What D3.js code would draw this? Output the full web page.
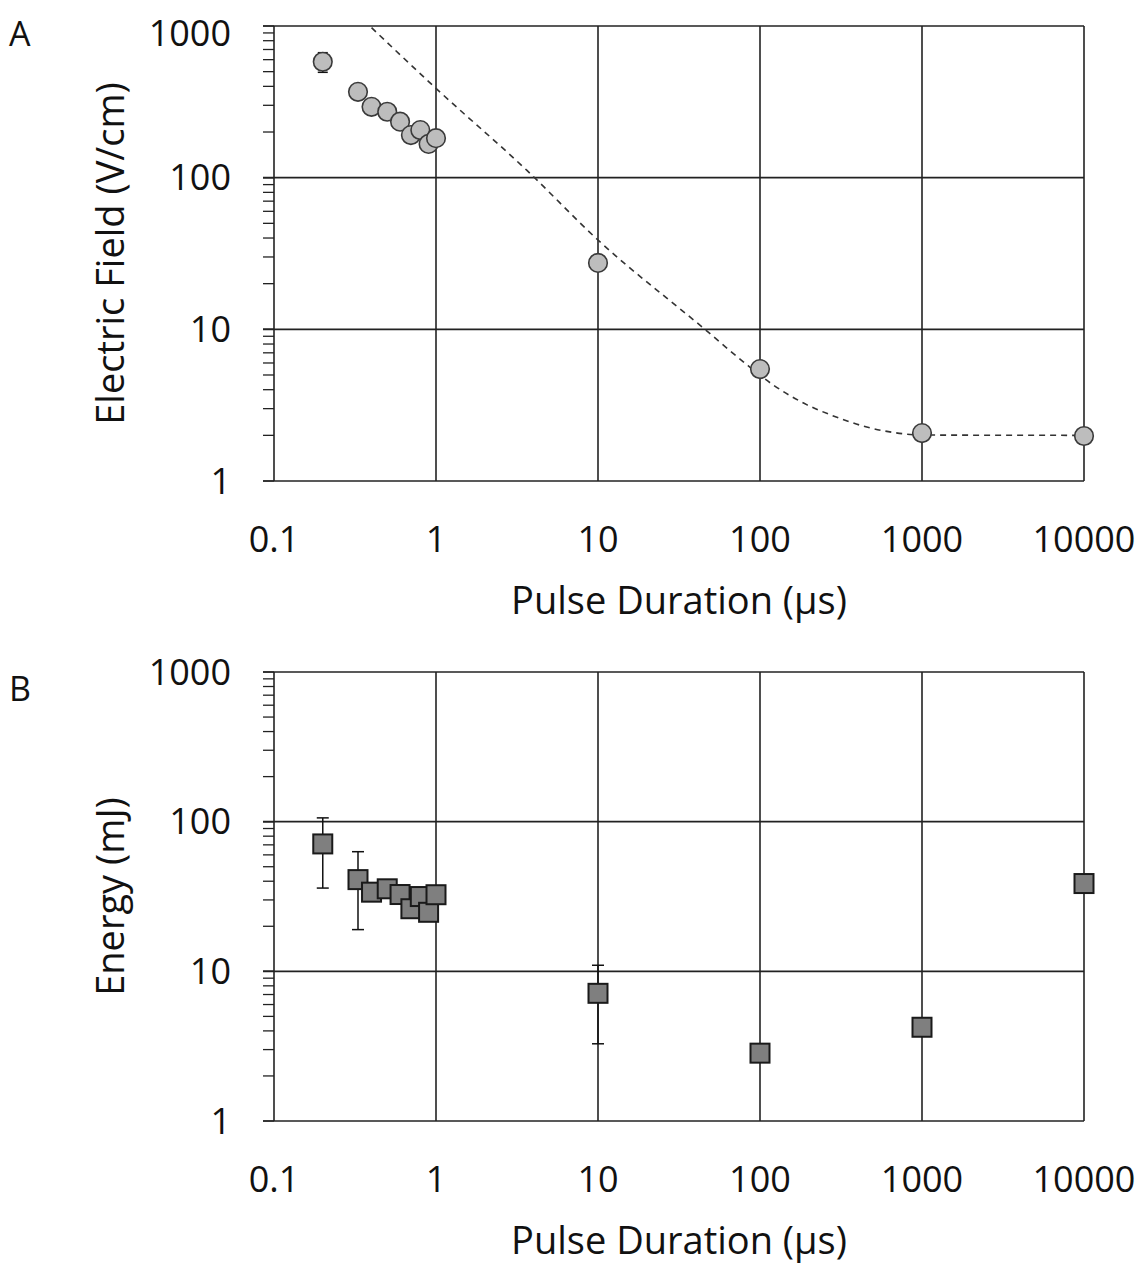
<!DOCTYPE html>
<html>
<head>
<meta charset="utf-8">
<script src="https://cdn.jsdelivr.net/npm/d3@7"></script>
<style>
  html, body { margin: 0; padding: 0; background: #fff; }
  svg text { font-family: "Open Sans", "Noto Sans", sans-serif; fill: #111; }
</style>
</head>
<body>
<svg id="chart" width="1146" height="1264"></svg>
<script>
// ---- data ----
const xTickValues = [0.1, 1, 10, 100, 1000, 10000];
const xTickLabels = ["0.1", "1", "10", "100", "1000", "10000"];
const yTickValues = [1, 10, 100, 1000];
const yTickLabels = ["1", "10", "100", "1000"];

const pulseDurations = [0.2, 0.33, 0.4, 0.5, 0.6, 0.7, 0.8, 0.9, 1, 10, 100, 1000, 10000];

const electricField = [581, 368, 293, 272, 234, 191, 206, 167, 182, 27.4, 5.47, 2.07, 1.98];
const electricFieldErr = [86, null, null, null, null, null, null, null, null, null, null, null, null];

const energy = [71, 41, 33.8, 35.6, 32.6, 26.2, 31.6, 24.8, 32.5, 7.13, 2.84, 4.23, 38.6];
const energyErr = [35, 22, null, null, null, null, null, null, null, 3.85, null, null, null];

const fitDurations = [0.4, 1, 3.63, 10, 45.7, 78.9, 121, 194, 270, 456, 665, 1000, 10000];
const fitField = [975, 388, 112, 38.8, 10, 6.11, 4.29, 3.19, 2.74, 2.27, 2.09, 2.01, 2.0];

// ---- layout ----
const svg = d3.select("#chart");
const left = 274, right = 1084;
const TICK_FONT = 36, TITLE_FONT = 38;

function panel(opts) {
  const g = svg.append("g");
  const x = d3.scaleLog().domain([0.1, 10000]).range([left, right]);
  const y = d3.scaleLog().domain([1, 1000]).range([opts.bottom, opts.top]);

  // minor + major ticks on the y axis (outside, left)
  const minor = [];
  for (let d = 1; d < 1000; d *= 10) for (let k = 1; k <= 10; k++) minor.push(d * k);
  g.append("g").selectAll("line").data(minor).join("line")
    .attr("x1", left - 11).attr("x2", left)
    .attr("y1", d => y(d)).attr("y2", d => y(d))
    .attr("stroke", "#222").attr("stroke-width", 1.3);

  // grid lines
  g.append("g").selectAll("line").data(yTickValues).join("line")
    .attr("x1", left - 11).attr("x2", right)
    .attr("y1", d => y(d)).attr("y2", d => y(d))
    .attr("stroke", "#222").attr("stroke-width", 1.6);
  g.append("g").selectAll("line").data(xTickValues).join("line")
    .attr("x1", d => x(d)).attr("x2", d => x(d))
    .attr("y1", opts.top).attr("y2", opts.bottom)
    .attr("stroke", "#222").attr("stroke-width", 1.6);

  // y tick labels
  g.append("g").selectAll("text").data(yTickValues).join("text")
    .attr("x", 231)
    .attr("y", d => Math.max(y(d), opts.top + opts.firstLabelShift))
    .attr("dy", "0.35em")
    .attr("text-anchor", "end")
    .attr("font-size", TICK_FONT)
    .text((d, i) => yTickLabels[i]);

  // x tick labels
  g.append("g").selectAll("text").data(xTickValues).join("text")
    .attr("x", d => x(d))
    .attr("y", opts.bottom + 71)
    .attr("text-anchor", "middle")
    .attr("font-size", TICK_FONT)
    .text((d, i) => xTickLabels[i]);

  // axis titles
  g.append("text")
    .attr("x", (left + right) / 2).attr("y", opts.bottom + 133)
    .attr("text-anchor", "middle").attr("font-size", TITLE_FONT)
    .text("Pulse Duration (µs)");
  g.append("text")
    .attr("transform", `translate(124,${(opts.top + opts.bottom) / 2}) rotate(-90)`)
    .attr("text-anchor", "middle").attr("font-size", TITLE_FONT)
    .text(opts.yTitle);

  // panel letter
  g.append("text")
    .attr("x", 9).attr("y", opts.top + opts.letterDy)
    .attr("font-size", 34)
    .text(opts.letter);

  return { g, x, y };
}

// ---- Panel A ----
const A = panel({ top: 26, bottom: 481, yTitle: "Electric Field (V/cm)", letter: "A", firstLabelShift: 7, letterDy: 20 });

const fitLine = d3.line()
  .x((d, i) => A.x(fitDurations[i]))
  .y((d, i) => A.y(fitField[i]))
  .curve(d3.curveMonotoneX);
A.g.append("path")
  .attr("d", fitLine(fitDurations))
  .attr("fill", "none").attr("stroke", "#333")
  .attr("stroke-width", 1.6).attr("stroke-dasharray", "6,5");

const errA = A.g.append("g");
pulseDurations.forEach((t, i) => {
  const e = electricFieldErr[i];
  if (e == null) return;
  const cx = A.x(t), y1 = A.y(electricField[i] + e), y2 = A.y(electricField[i] - e);
  errA.append("line").attr("x1", cx).attr("x2", cx).attr("y1", y1).attr("y2", y2).attr("stroke", "#111").attr("stroke-width", 1.5);
  [y1, y2].forEach(yy => errA.append("line").attr("x1", cx - 5).attr("x2", cx + 5).attr("y1", yy).attr("y2", yy).attr("stroke", "#111").attr("stroke-width", 1.5));
});

A.g.append("g").selectAll("circle").data(pulseDurations).join("circle")
  .attr("cx", d => A.x(d))
  .attr("cy", (d, i) => A.y(electricField[i]))
  .attr("r", 9.3)
  .attr("fill", "#bdbdbd").attr("stroke", "#3a3a3a").attr("stroke-width", 1.6);

// ---- Panel B ----
const B = panel({ top: 672, bottom: 1121, yTitle: "Energy (mJ)", letter: "B", firstLabelShift: 0, letterDy: 29 });

const errB = B.g.append("g");
pulseDurations.forEach((t, i) => {
  const e = energyErr[i];
  if (e == null) return;
  const cx = B.x(t), y1 = B.y(energy[i] + e), y2 = B.y(energy[i] - e);
  errB.append("line").attr("x1", cx).attr("x2", cx).attr("y1", y1).attr("y2", y2).attr("stroke", "#111").attr("stroke-width", 1.5);
  [y1, y2].forEach(yy => errB.append("line").attr("x1", cx - 6).attr("x2", cx + 6).attr("y1", yy).attr("y2", yy).attr("stroke", "#111").attr("stroke-width", 1.5));
});

const side = 19;
B.g.append("g").selectAll("rect").data(pulseDurations).join("rect")
  .attr("x", d => B.x(d) - side / 2)
  .attr("y", (d, i) => B.y(energy[i]) - side / 2)
  .attr("width", side).attr("height", side)
  .attr("fill", "#7f7f7f").attr("stroke", "#1a1a1a").attr("stroke-width", 2);
</script>
</body>
</html>
